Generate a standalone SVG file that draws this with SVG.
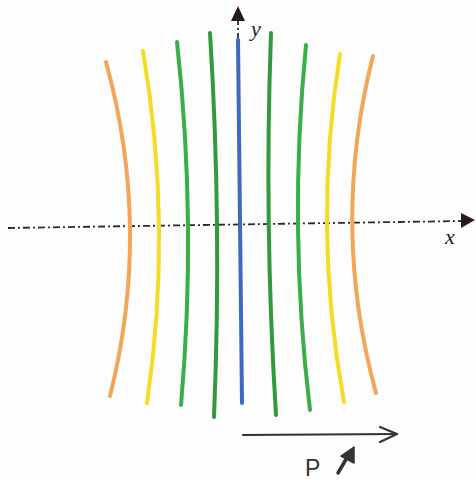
<svg xmlns="http://www.w3.org/2000/svg" width="476" height="480" viewBox="0 0 476 480">
<style>
.axis{fill:none;stroke:#2a2a2a;stroke-width:1.8;stroke-dasharray:7 3 2 3}
.curve{fill:none;stroke-width:4;stroke-linecap:round}
.orange{stroke:#f2a65a}
.yellow{stroke:#f4dc22}
.green{stroke:#3aae48}
.dkgreen{stroke:#2f9a3e}
.blue{stroke:#3f68c0}
.lbl{font-family:"Liberation Serif",serif;font-style:italic;font-size:22px;fill:#222}
.hand{fill:none;stroke:#333;stroke-width:2.2;stroke-linecap:round;stroke-linejoin:round}
</style>
<rect width="476" height="480" fill="#fdfdfd"/>
<g id="axes">
<path class="axis" d="M8,228 L462,221"/>
<path d="M461,213 L475,220 L461,228 Z" fill="#2a1a1a"/>
<path class="axis" d="M238,40 L238,20"/>
<path d="M231,21 L238,6 L245,21 Z" fill="#2a1a1a"/>
<text class="lbl" x="445" y="244">x</text>
<text class="lbl" x="251" y="36">y</text>
</g>
<g id="curves">
<path class="curve orange" d="M106,62 Q152,229 110,396"/>
<path class="curve yellow" d="M143,51 Q173,227 147,403"/>
<path class="curve green" d="M177,42 Q197,224 181,405"/>
<path class="curve dkgreen" d="M210,33 Q222,225 214,417"/>
<path class="curve blue" d="M238,40 L242,403"/>
<path class="curve dkgreen" d="M271,33 Q264,224 276,415"/>
<path class="curve green" d="M306,45 Q288,228 310,410"/>
<path class="curve yellow" d="M340,54 Q312,228 344,402"/>
<path class="curve orange" d="M373,56 Q330,225 376,393"/>
</g>
<g id="momentum">
<path class="hand" d="M243,435 L397,434"/>
<path class="hand" d="M380,427 L397,434 L380,442"/>
<text x="305" y="476" font-family="Liberation Sans, sans-serif" font-size="23" fill="#333">P</text>
<path d="M338,473 L348,456" fill="none" stroke="#333" stroke-width="3.5" stroke-linecap="round"/>
<path d="M341,456 L354,447 L354,463 Z" fill="#333" stroke="#333" stroke-width="1.5" stroke-linejoin="round"/>
</g>
</svg>
